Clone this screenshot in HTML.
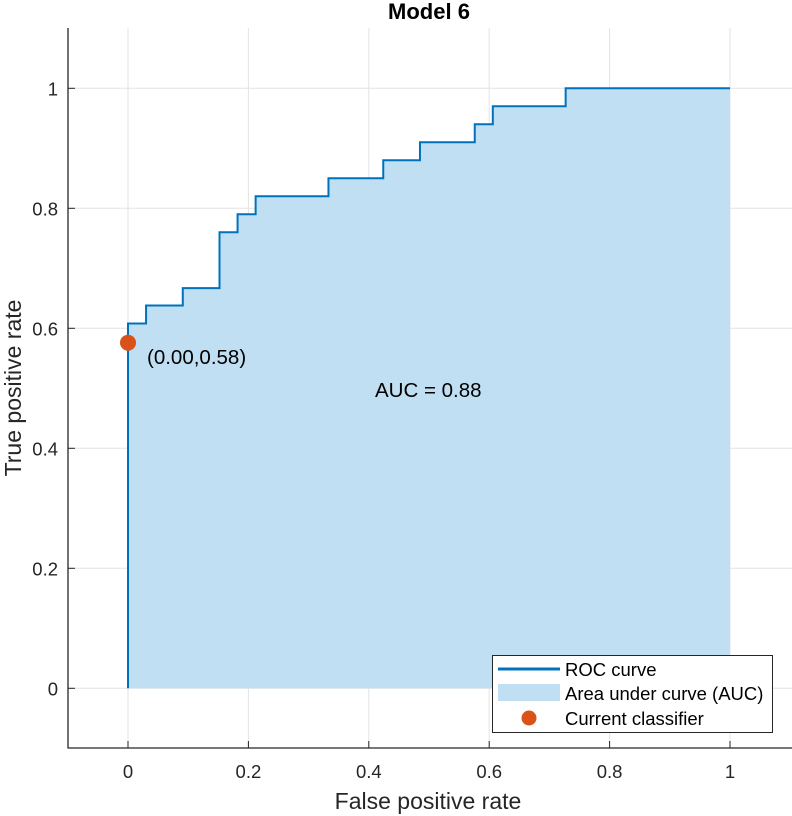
<!DOCTYPE html>
<html><head><meta charset="utf-8"><style>
body{margin:0;background:#fff;}
svg{display:block;font-family:"Liberation Sans",sans-serif;}
</style></head><body>
<svg id="chart" width="792" height="816" viewBox="0 0 792 816">
<g id="grid"></g>
<g id="marks"></g>
<g id="axes"></g>
<text x="429" y="19" text-anchor="middle" font-size="22" font-weight="bold">Model 6</text>
<text x="428" y="809" text-anchor="middle" font-size="23" fill="#262626">False positive rate</text>
<text transform="translate(21,388) rotate(-90)" text-anchor="middle" font-size="23" fill="#262626">True positive rate</text>
<text x="375" y="397" font-size="20.5">AUC = 0.88</text>
<text x="147" y="364" font-size="20.5">(0.00,0.58)</text>
<g>
<rect x="492.5" y="655.5" width="280" height="77" fill="#fff" stroke="#262626" stroke-width="1"/>
<line x1="498" y1="669" x2="560" y2="669" stroke="#0072BD" stroke-width="3"/>
<text x="565" y="676" font-size="18.5">ROC curve</text>
<rect x="498" y="684" width="62" height="17" fill="#C0DFF2"/>
<text x="565" y="700" font-size="18.5">Area under curve (AUC)</text>
<circle cx="529" cy="718" r="7.5" fill="#D95319"/>
<text x="565" y="725" font-size="18.5">Current classifier</text>
</g>
</svg>
<script>
const fpr=[0,0,0.03,0.091,0.152,0.182,0.212,0.333,0.424,0.485,0.576,0.606,0.727,1.0];
const tpr=[0,0.608,0.638,0.667,0.76,0.79,0.82,0.85,0.88,0.91,0.94,0.97,1.0,1.0];
const opX=[0.0];
const opY=[0.576];
const xTicks=[0,0.2,0.4,0.6,0.8,1];
const yTicks=[0,0.2,0.4,0.6,0.8,1];
const xTickLabels=["0","0.2","0.4","0.6","0.8","1"];
const yTickLabels=["0","0.2","0.4","0.6","0.8","1"];
const X=v=>128+v*602, Y=v=>688.3-v*600;
const NS="http://www.w3.org/2000/svg";
function mk(t,a,p){const e=document.createElementNS(NS,t);for(const k in a)e.setAttribute(k,a[k]);p.appendChild(e);return e;}
const grid=document.getElementById('grid'),marks=document.getElementById('marks'),axes=document.getElementById('axes');
xTicks.forEach((v,i)=>{
 const g=mk('line',{x1:X(v),x2:X(v),y1:28,y2:748,stroke:'#e3e3e3','stroke-width':1},grid);
 
 
 const t=mk('line',{x1:X(v),x2:X(v),y1:748,y2:741,stroke:'#262626'},axes);
 
 
 const l=mk('text',{x:X(v),y:778,'text-anchor':'middle','font-size':18.5,fill:'#262626'},axes);
 l.textContent=xTickLabels[i];
 
 
});
yTicks.forEach((v,i)=>{
 const g=mk('line',{x1:68,x2:792,y1:Y(v),y2:Y(v),stroke:'#e3e3e3','stroke-width':1},grid);
 
 
 const t=mk('line',{x1:68,x2:75,y1:Y(v),y2:Y(v),stroke:'#262626'},axes);
 
 
 const l=mk('text',{x:58,y:Y(v)+7,'text-anchor':'end','font-size':18.5,fill:'#262626'},axes);
 l.textContent=yTickLabels[i];
 
 
});
let d='M'+X(fpr[0])+','+Y(tpr[0]);
for(let i=1;i<fpr.length;i++){d+=' L'+X(fpr[i])+','+Y(tpr[i-1])+' L'+X(fpr[i])+','+Y(tpr[i]);}
const area=mk('path',{d:d+' L'+X(fpr[fpr.length-1])+','+Y(0)+' Z',fill:'#C0DFF2'},marks);


const line=mk('path',{d:d,fill:'none',stroke:'#0072BD','stroke-width':2},marks);


opX.forEach((v,i)=>{
 const c=mk('circle',{cx:X(v),cy:Y(opY[i]),r:8,fill:'#D95319'},marks);
 
 
});
const ya=mk('line',{x1:68,x2:68,y1:28,y2:748.5,stroke:'#262626','stroke-width':1.3},axes);


const xa=mk('line',{x1:68,x2:792,y1:748,y2:748,stroke:'#262626','stroke-width':1.3},axes);


</script>
</body></html>
